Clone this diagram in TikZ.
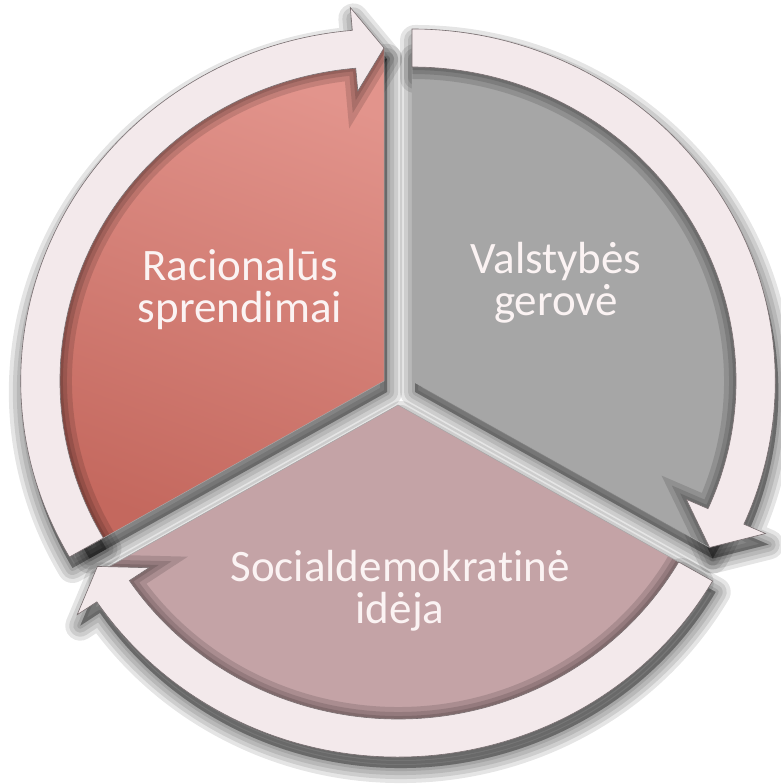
\documentclass[tikz,border=0pt]{standalone}
\usepackage{fontspec}
\setmainfont{Carlito}[Ligatures={NoCommon,NoContextual}]
\definecolor{bandcol}{RGB}{243,233,235}
\definecolor{bandline}{RGB}{120,110,112}
\definecolor{redtop}{RGB}{226,148,140}
\definecolor{redbot}{RGB}{196,104,94}
\definecolor{greyfill}{RGB}{166,166,166}
\definecolor{pinkfill}{RGB}{196,163,166}
\definecolor{txt}{RGB}{251,243,243}
\newcommand\secpath[2]{(0,0) -- (#1:333) arc[start angle=#1, end angle=#2, radius=333] -- cycle}
\newcommand\bandpath[3]{(#1:352) arc[start angle=#1, end angle=#2, radius=352] -- (#2:375) -- (#3:333) -- (#2:291) -- (#2:314) arc[start angle=#2, end angle=#1, radius=314] -- cycle}
\tikzset{
  lbl/.style={text=txt, align=center, font=\fontsize{45}{42}\selectfont, inner sep=0pt},
  bandstyle/.style={fill=bandcol, draw=bandline, line width=0.6pt, line join=miter},
  secedge/.style={draw=black!35, line width=0.5pt},
}
\begin{document}
\begin{tikzpicture}[x=1pt,y=1pt]
\fill[white] (0,0) rectangle (780,784);
\useasboundingbox (0,0) rectangle (780,784);
% ---- drop shadows ----
\foreach \sx/\sy/\a/\b/\c/\d/\e in {384/403/90/210/210/95/90, 412/403/-30/90/90/-24/-30, 398/379/210/330/330/214/209}{
  \begin{scope}[shift={(\sx,\sy)}, xscale=1.032]
    \foreach \w in {30,22,14,6}{
      \filldraw[black, opacity=0.1, line width=\w pt, line join=round, shift={(3,-11)}] \secpath{\a}{\b};
      \filldraw[black, opacity=0.1, line width=\w pt, line join=round, shift={(3,-11)}] \bandpath{\c}{\d}{\e};
    }
  \end{scope}
}
% ---- bottom sector ----
\begin{scope}[shift={(398,379)}, xscale=1.032]
  \fill[pinkfill] \secpath{210}{330};
  \begin{scope}
    \clip \secpath{210}{330};
    \foreach \w in {24,14,6}{\draw[black, opacity=0.13, line width=\w pt] \bandpath{330}{214}{209};}
  \end{scope}
  \draw[secedge] \secpath{210}{330};
  \path[bandstyle] \bandpath{330}{214}{209};
\end{scope}
% ---- red sector ----
\begin{scope}[shift={(384,403)}, xscale=1.032]
  \shade[top color=redtop, bottom color=redbot, shading angle=-20] \secpath{90}{210};
  \begin{scope}
    \clip \secpath{90}{210};
    \foreach \w in {24,14,6}{\draw[black, opacity=0.13, line width=\w pt] \bandpath{210}{95}{90};}
  \end{scope}
  \draw[secedge] \secpath{90}{210};
  \path[bandstyle] \bandpath{210}{95}{90};
\end{scope}
% ---- grey sector ----
\begin{scope}[shift={(412,403)}, xscale=1.032]
  \fill[greyfill] \secpath{-30}{90};
  \begin{scope}
    \clip \secpath{-30}{90};
    \foreach \w in {24,14,6}{\draw[black, opacity=0.13, line width=\w pt] \bandpath{90}{-24}{-30};}
  \end{scope}
  \draw[secedge] \secpath{-30}{90};
  \path[bandstyle] \bandpath{90}{-24}{-30};
\end{scope}
% ---- labels ----
\node[lbl] (rac) at (240,494) {Racionalūs\\sprendimai};
\node[lbl] (val) at (556,501) {Valstybės\\gerovė};
\node[lbl] (soc) at (400,193) {Socialdemokratinė\\idėja};
\end{tikzpicture}
\end{document}
